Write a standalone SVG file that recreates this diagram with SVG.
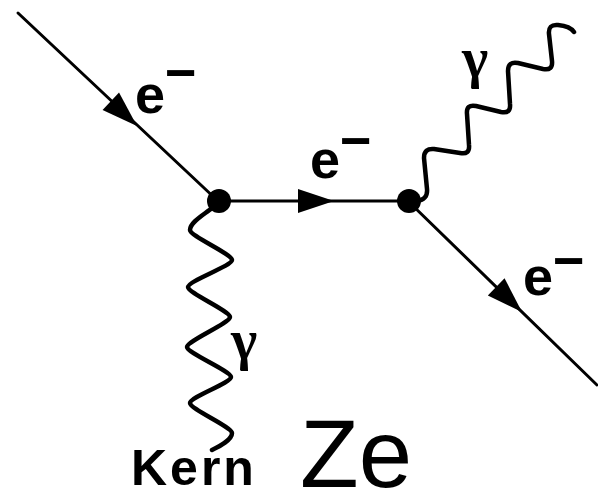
<svg xmlns="http://www.w3.org/2000/svg" xmlns:xlink="http://www.w3.org/1999/xlink" width="598" height="497" viewBox="0 0 598 497">
<style>
.fermion{stroke:#000;stroke-width:3;fill:none;stroke-linecap:round}
.photon{stroke:#000;stroke-width:4.5;fill:none;stroke-linecap:round;stroke-linejoin:round}
.vtx{fill:#000}
.lbl{font-family:"Liberation Sans",Arial,sans-serif;font-weight:bold;font-size:54px;fill:#000}
.gam{font-family:"Liberation Serif","Times New Roman",serif;font-weight:bold;font-size:56px;fill:#000}
.kern{font-family:"Liberation Sans",Arial,sans-serif;font-weight:bold;font-size:50px;letter-spacing:3px;fill:#000}
.ze{font-family:"Liberation Sans",Arial,sans-serif;font-size:96px;fill:#000}
</style>
<defs>
<path id="arrow" d="M0 0 L-36 -12 L-36 12 Z" fill="#000"/>
</defs>
<rect width="598" height="497" fill="#fff"/>
<g id="connectors">
<line class="fermion" x1="18" y1="13" x2="219" y2="202"/>
<line class="fermion" x1="219" y1="201" x2="409" y2="201"/>
<line class="fermion" x1="409" y1="202" x2="597" y2="385"/>
<use xlink:href="#arrow" transform="translate(137,126) rotate(43.3)"/>
<use xlink:href="#arrow" transform="translate(334,201)"/>
<use xlink:href="#arrow" transform="translate(522,312) rotate(44.2)"/>
<path class="photon" d="M416 201 Q428 200 427 189 L424 158 Q424 148 434 149 L460 153 Q470 155 469 145 L467 114 Q466 104 476 106 L501 112 Q511 114 510 104 L508 71 Q508 61 518 63 L543 69 Q553 71 552 61 L549 34 Q548 24 558 25 Q570 26 574 32"/>
<path class="photon" d="M212 208 C205 214 190 222 190 230 C190 236 232 254 232 260 C232 266 188 281 188 287 C188 293 230 311 230 317 C230 323 187 341 187 347 C187 353 231 371 231 377 C231 383 190 397 190 403 C190 409 232 427 232 433 C232 440 220 446 212 450"/>
</g>
<g id="vertex1"><circle class="vtx" cx="219" cy="201" r="12"/></g>
<g id="vertex2"><circle class="vtx" cx="409" cy="201" r="12"/></g>
<g id="label-e-in"><text class="lbl" x="135" y="113">e<tspan dy="-22">−</tspan></text></g>
<g id="label-e-mid"><text class="lbl" x="310" y="178">e<tspan dy="-19">−</tspan></text></g>
<g id="label-e-out"><text class="lbl" x="523" y="295">e<tspan dy="-16">−</tspan></text></g>
<g id="label-gamma-out"><text class="gam" x="462" y="77">γ</text></g>
<g id="label-gamma-kern"><text class="gam" x="231" y="359">γ</text></g>
<g id="label-kern"><text class="kern" x="131" y="485">Kern</text></g>
<g id="label-ze"><text class="ze" x="300" y="487">Ze</text></g>
</svg>
